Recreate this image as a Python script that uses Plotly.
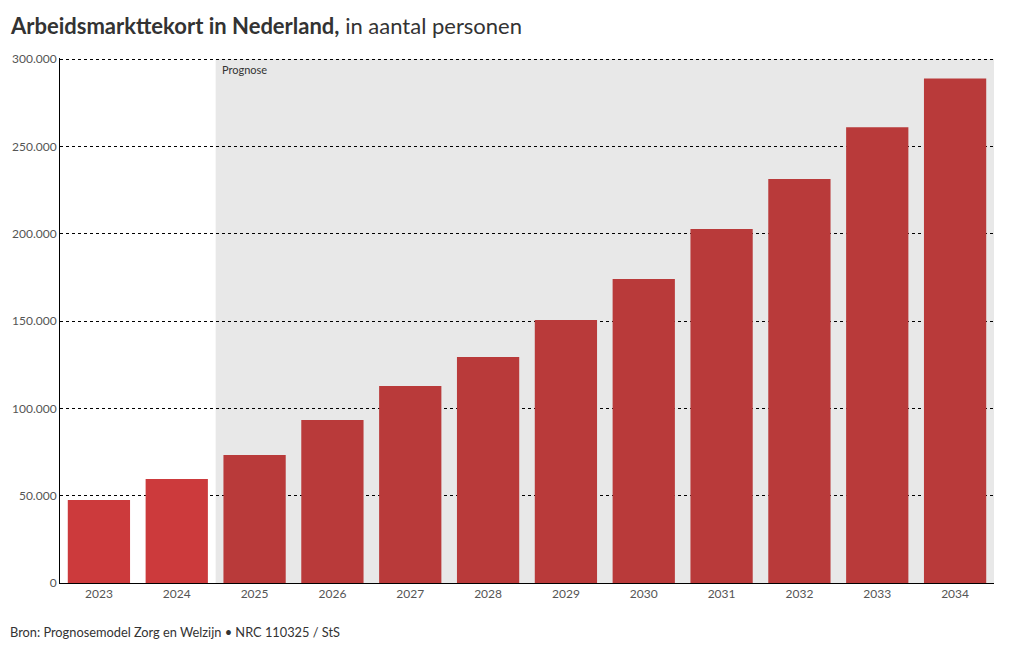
import plotly.graph_objects as go

years = ["2023", "2024", "2025", "2026", "2027", "2028", "2029", "2030", "2031", "2032", "2033", "2034"]
values = [47500, 59500, 73300, 93300, 112800, 129400, 150600, 174000, 202700, 231300, 261000, 288800]
y_ticks = [0, 50000, 100000, 150000, 200000, 250000, 300000]
y_tick_labels = ["0", "50.000", "100.000", "150.000", "200.000", "250.000", "300.000"]
forecast_start = "2025"

FONT = "Lato, 'Noto Sans', sans-serif"
colors = ["#cc3a3c" if int(y) < int(forecast_start) else "#b93a3a" for y in years]

fig = go.Figure()
fig.add_trace(go.Bar(x=years, y=values, marker=dict(color=colors, line=dict(width=0)),
                     hoverinfo="x+y"))

idx0 = years.index(forecast_start) - 0.5
idx1 = len(years) - 0.5
fig.add_shape(type="rect", xref="x", yref="y", x0=idx0, x1=idx1, y0=0, y1=y_ticks[-1],
              fillcolor="#e8e8e8", line=dict(width=0), layer="below")

fig.add_annotation(text="Prognose", xref="x", yref="y", x=idx0, y=y_ticks[-1], xanchor="left", yanchor="top",
                   xshift=4, yshift=-2, showarrow=False, font=dict(size=11, color="#333", family=FONT))

fig.add_annotation(text="<b>Arbeidsmarkttekort in Nederland,</b> in aantal personen",
                   xref="paper", yref="paper", x=0, y=1, xanchor="left", yanchor="bottom",
                   xshift=-52, yshift=17, showarrow=False, font=dict(size=22, color="#333", family=FONT))

fig.add_annotation(text="Bron: Prognosemodel Zorg en Welzijn • NRC 110325 / StS",
                   xref="paper", yref="paper", x=0, y=0, xanchor="left", yanchor="top",
                   xshift=-52, yshift=-39, showarrow=False, font=dict(size=12.8, color="#333", family=FONT))

fig.update_layout(
    width=1020, height=650,
    margin=dict(l=60, r=26, t=58, b=67),
    paper_bgcolor="white", plot_bgcolor="white",
    bargap=0.2, showlegend=False,
    font=dict(family=FONT, color="#555", size=12),
    xaxis=dict(type="category", range=[-0.5, 11.5], showline=True, linecolor="#000", linewidth=1,
               ticks="", showgrid=False, tickfont=dict(size=12, color="#555")),
    yaxis=dict(range=[0, 300600], tickvals=y_ticks, ticktext=y_tick_labels, showline=True,
               linecolor="#000", linewidth=1, showgrid=True, gridcolor="#000", griddash="3px,3px",
               gridwidth=1, ticks="", zeroline=False,
               tickfont=dict(size=12, color="#555")),
)

fig.write_html("out.html", config={"displayModeBar": False},
               post_script="document.body.style.margin='0';document.body.style.padding='0';")
